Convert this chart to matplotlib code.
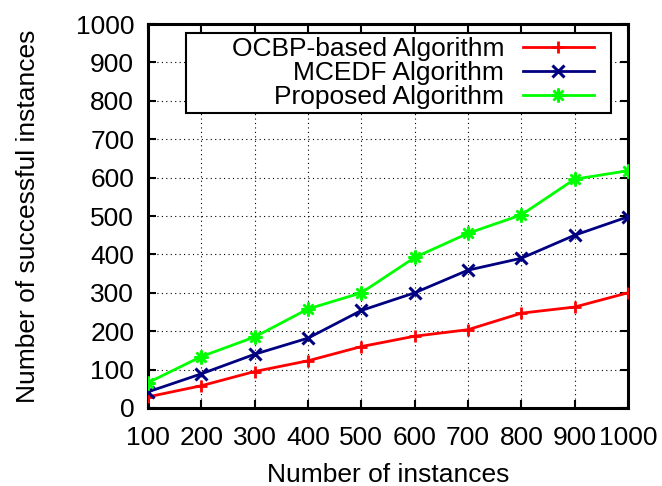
import matplotlib
matplotlib.use("Agg")
import matplotlib.pyplot as plt
from matplotlib.patches import Rectangle

x = [100, 200, 300, 400, 500, 600, 700, 800, 900, 1000]
ocbp = [29, 58, 95, 123, 160, 187, 204, 247, 263, 300]
mcedf = [42, 89, 140, 182, 254, 300, 359, 390, 450, 498]
proposed = [66, 134, 185, 258, 300, 392, 455, 503, 596, 618]
labels = ["OCBP-based Algorithm", "MCEDF Algorithm", "Proposed Algorithm"]

plt.rcParams['font.family'] = ['Liberation Sans', 'DejaVu Sans']
FS = 19

fig = plt.figure(figsize=(6.62, 4.86), dpi=100)
ax = fig.add_axes([0.2236, 0.1605, 0.725, 0.79])

ax.plot(x, ocbp, color='#ff0000', lw=2, marker='+', ms=9, mew=2, label=labels[0], zorder=3)
ax.plot(x, mcedf, color='#000080', lw=2, marker='x', ms=8, mew=2.2, label=labels[1], zorder=3)
ax.plot(x, proposed, color='#00ff00', lw=2, marker=(8, 2, 0), ms=10, mew=1.8, label=labels[2], zorder=3)

ax.set_xlim(100, 1000)
ax.set_ylim(0, 1000)
ax.set_xticks(x)
ax.set_yticks(range(0, 1001, 100))
ax.tick_params(direction='in', length=6, width=1.5, labelsize=FS, top=True, right=True)
ax.tick_params(axis='x', pad=13)
ax.tick_params(axis='y', pad=10)
ax.grid(True, color='black', linestyle=(0, (1, 3)), linewidth=0.8)
for s in ax.spines.values():
    s.set_linewidth(2.2)

ax.set_xlabel("Number of instances", fontsize=FS, labelpad=9.5)
ax.set_ylabel("Number of successful instances", fontsize=FS, labelpad=26)

frame = Rectangle((0.079, 0.768), 0.9646 - 0.079, 0.9766 - 0.768, transform=ax.transAxes,
                  facecolor='white', edgecolor='black', linewidth=1.5, zorder=4)
ax.add_patch(frame)

leg = ax.legend(loc='upper right', bbox_to_anchor=(0.9375, 0.9766), fontsize=FS, markerfirst=False,
                frameon=False, borderpad=0.15,
                labelspacing=0.0, handlelength=2.7, handletextpad=0.7, borderaxespad=0)
leg.set_zorder(5)
for t in leg.get_texts():
    t.set_ha('right')
leg._legend_box.align = 'right'

fig.savefig("out.png", dpi=100)
